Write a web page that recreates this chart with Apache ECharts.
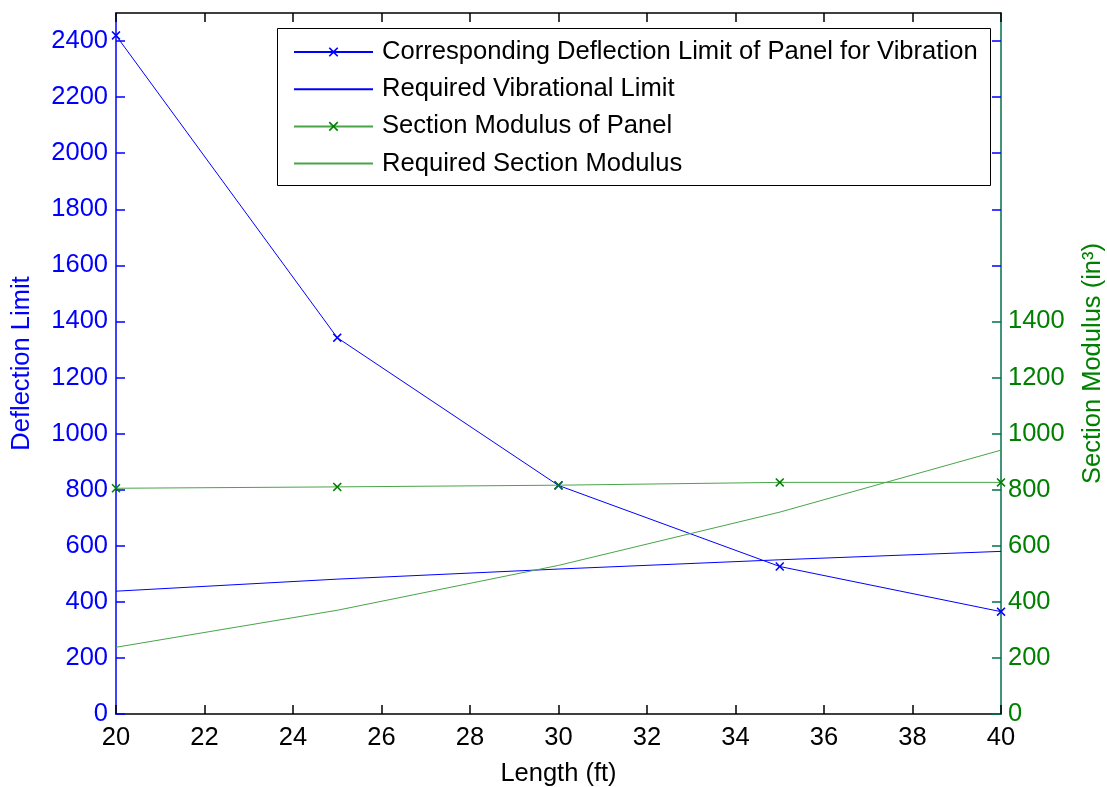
<!DOCTYPE html>
<html>
<head>
<meta charset="utf-8">
<script src="https://cdn.jsdelivr.net/npm/echarts@6/dist/echarts.min.js"></script>
<style>
  html, body { margin: 0; padding: 0; background: #fff; }
  #chart { width: 1107px; height: 787px; }
</style>
</head>
<body>
<div id="chart"></div>
<script>
// Panel length (ft)
const lengths = [20, 25, 30, 35, 40];

// Left axis: deflection limit
const deflectionLimit = [2420, 1342, 815, 526, 365];
const requiredVibrationalLimit = [438, 481, 517, 550, 580];

// Right axis: section modulus (in^3)
const sectionModulus = [805, 810, 816, 826, 826];
const requiredSectionModulus = [238, 370, 530, 720, 941];

// Tick values
const xTicks = [20, 22, 24, 26, 28, 30, 32, 34, 36, 38, 40];
const leftTicks = [0, 200, 400, 600, 800, 1000, 1200, 1400, 1600, 1800, 2000, 2200, 2400];
const rightTicks = [0, 200, 400, 600, 800, 1000, 1200, 1400];
const rightMirrorTicks = [1600, 1800, 2000, 2200, 2400];

const FONT = '"Liberation Sans", Arial, sans-serif';
const FS = 25.5;
const BLUE = '#0000ff';
const GREEN = '#008000';
const GREEN_LINE = '#4aa44a';
const RIGHT_AXIS = '#00704a';

// filled "x" marker
const CROSS = 'path://M0,1.2L1.2,0L5,3.8L8.8,0L10,1.2L6.2,5L10,8.8L8.8,10L5,6.2L1.2,10L0,8.8L3.8,5Z';

const pairs = ys => lengths.map((x, i) => [x, ys[i]]);
const plain = v => String(v);

const chart = echarts.init(document.getElementById('chart'), null, { renderer: 'canvas' });

chart.setOption({
  backgroundColor: '#fff',
  animation: false,
  textStyle: { fontFamily: FONT },
  grid: { left: 116, right: 106, top: 13, bottom: 73, containLabel: false, outerBoundsMode: 'none' },
  graphic: [{
    type: 'rect',
    z: 3,
    shape: { x: 277.5, y: 28.5, width: 713, height: 157 },
    style: { fill: '#fff', stroke: '#000', lineWidth: 1 }
  }],
  legend: {
    orient: 'vertical',
    left: 293,
    top: 37,
    padding: 0,
    z: 5,
    itemWidth: 79,
    itemHeight: 12,
    itemGap: 7.2,
    selectedMode: false,
    textStyle: { fontFamily: FONT, fontSize: 25.6, color: '#000', lineHeight: 26, padding: [4, 0, 0, 4] },
    data: [
      { name: 'Corresponding Deflection Limit of Panel for Vibration' },
      { name: 'Required Vibrational Limit', itemStyle: { opacity: 0 } },
      { name: 'Section Modulus of Panel' },
      { name: 'Required Section Modulus', itemStyle: { opacity: 0 } }
    ]
  },
  xAxis: [{
    type: 'value',
    position: 'bottom',
    min: 20, max: 40, interval: 2,
    name: 'Length (ft)',
    nameLocation: 'middle',
    nameGap: 47,
    nameTextStyle: { fontFamily: FONT, fontSize: FS, color: '#000' },
    axisLine: { show: true, onZero: false, lineStyle: { color: '#000', width: 1.5 } },
    axisTick: { show: true, inside: true, length: 9, lineStyle: { color: '#000', width: 1.5 }, customValues: xTicks },
    axisLabel: { color: '#000', fontSize: FS, fontFamily: FONT, margin: 11, customValues: xTicks, formatter: plain },
    splitLine: { show: false }
  }, {
    type: 'value',
    position: 'top',
    min: 20, max: 40, interval: 2,
    axisLine: { show: true, onZero: false, lineStyle: { color: '#000', width: 1.5 } },
    axisTick: { show: true, inside: true, length: 9, lineStyle: { color: '#000', width: 1.5 }, customValues: xTicks },
    axisLabel: { show: false },
    splitLine: { show: false }
  }],
  yAxis: [{
    type: 'value',
    position: 'left',
    min: 0, max: 2500, interval: 100,
    name: 'Deflection Limit',
    nameLocation: 'middle',
    nameGap: 81,
    nameTextStyle: { fontFamily: FONT, fontSize: FS, color: BLUE },
    axisLine: { show: true, onZero: false, lineStyle: { color: BLUE, width: 1.5 } },
    axisTick: { show: true, inside: true, length: 9, lineStyle: { color: BLUE, width: 1.5 }, customValues: leftTicks },
    axisLabel: { color: BLUE, fontSize: FS, fontFamily: FONT, margin: 8, customValues: leftTicks, formatter: plain },
    splitLine: { show: false }
  }, {
    type: 'value',
    position: 'right',
    min: 0, max: 2500, interval: 100,
    name: 'Section Modulus (in³)',
    nameLocation: 'middle',
    nameGap: 79,
    nameTextStyle: { fontFamily: FONT, fontSize: FS, color: GREEN },
    axisLine: { show: true, onZero: false, lineStyle: { color: RIGHT_AXIS, width: 1.5 } },
    axisTick: { show: true, inside: true, length: 9, lineStyle: { color: RIGHT_AXIS, width: 1.5 }, customValues: rightTicks },
    axisLabel: { color: GREEN, fontSize: FS, fontFamily: FONT, margin: 7, customValues: rightTicks, formatter: plain },
    splitLine: { show: false }
  }, {
    // blue ticks of the left scale mirrored onto the right edge
    type: 'value',
    position: 'right',
    offset: 0,
    min: 0, max: 2500, interval: 100,
    axisLine: { show: false },
    axisTick: { show: true, inside: true, length: 9, lineStyle: { color: BLUE, width: 1.5 }, customValues: rightMirrorTicks },
    axisLabel: { show: false },
    splitLine: { show: false }
  }],
  series: [{
    name: 'Corresponding Deflection Limit of Panel for Vibration',
    type: 'line',
    yAxisIndex: 0,
    data: pairs(deflectionLimit),
    symbol: CROSS,
    symbolSize: 9,
    showSymbol: true,
    itemStyle: { color: BLUE },
    lineStyle: { color: BLUE, width: 1 },
    z: 4
  }, {
    name: 'Required Vibrational Limit',
    type: 'line',
    yAxisIndex: 0,
    data: pairs(requiredVibrationalLimit),
    symbol: 'none',
    itemStyle: { color: BLUE },
    lineStyle: { color: BLUE, width: 1 },
    z: 4
  }, {
    name: 'Section Modulus of Panel',
    type: 'line',
    yAxisIndex: 1,
    data: pairs(sectionModulus),
    symbol: CROSS,
    symbolSize: 9,
    showSymbol: true,
    itemStyle: { color: GREEN },
    lineStyle: { color: GREEN_LINE, width: 1 },
    z: 4
  }, {
    name: 'Required Section Modulus',
    type: 'line',
    yAxisIndex: 1,
    data: pairs(requiredSectionModulus),
    symbol: 'none',
    itemStyle: { color: GREEN_LINE },
    lineStyle: { color: GREEN_LINE, width: 1 },
    z: 4
  }]
});
</script>
</body>
</html>
